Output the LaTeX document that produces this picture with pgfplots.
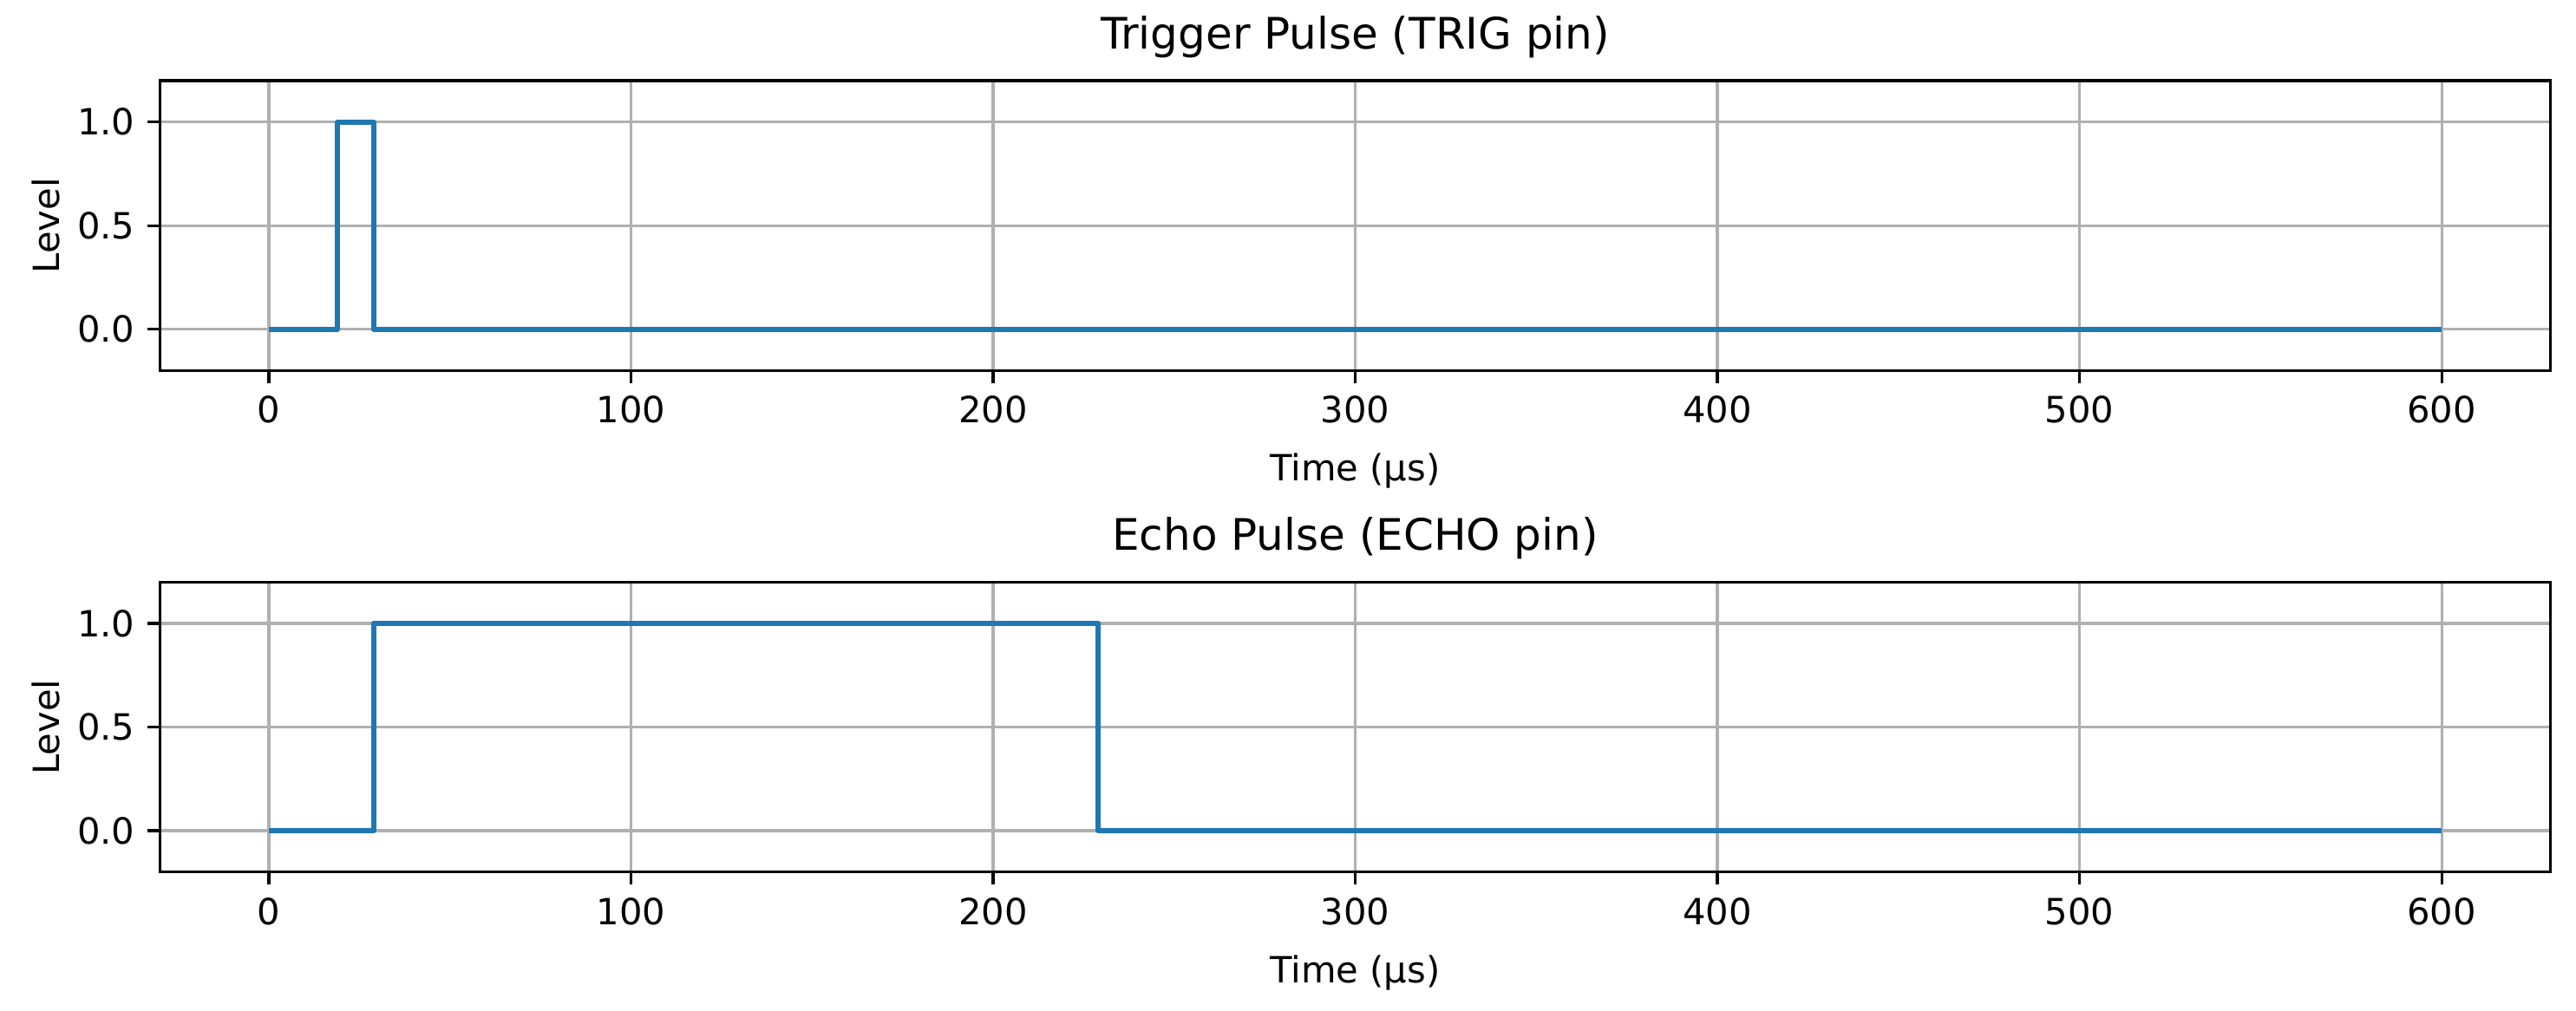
\documentclass[border=0pt]{standalone}
\usepackage{fontspec}
\setmainfont{DejaVu Sans}
\usepackage{pgfplots}
\pgfplotsset{compat=1.18}
\definecolor{tabblue}{HTML}{1F77B4}
\definecolor{gridgray}{HTML}{B0B0B0}
\pgfplotsset{
  pulse/.style={
    scale only axis,
    width=661.4pt, height=80.3pt,
    xmin=-30, xmax=630,
    ymin=-0.2, ymax=1.2,
    xtick={0,100,...,600},
    ytick={0,0.5,1},
    xtick pos=bottom, ytick pos=left,
    tick align=outside,
    major tick length=3.5pt,
    every tick/.style={black, line width=0.8pt},
    axis line style={line width=0.8pt},
    grid=major,
    major grid style={gridgray, line width=0.8pt},
    tick label style={font=\fontsize{10}{12}\selectfont},
    /pgf/number format/assume math mode=true,
    yticklabel style={/pgf/number format/.cd, fixed, fixed zerofill, precision=1},
    xticklabel style={/pgf/number format/.cd, fixed, precision=0},
    label style={font=\fontsize{10}{12}\selectfont},
    title style={font=\fontsize{12}{14}\selectfont, at={(0.5,1)}, anchor=south,
      inner sep=0pt, yshift=6pt},
    every axis title shift=0pt,
    xlabel={Time (µs)},
    ylabel={Level},
    ylabel style={yshift=-2pt},
    xlabel style={yshift=-1.5pt},
  },
  pulseline/.style={tabblue, line width=1.5pt, line join=round, mark=none},
}
\begin{document}
\begin{tikzpicture}[x=1pt,y=1pt]
  \useasboundingbox (0,0) rectangle (712.8,279.8);
  \begin{axis}[pulse, at={(44.3pt,177.2pt)}, anchor=south west,
      title={Trigger Pulse (TRIG pin)}]
    \addplot[pulseline] coordinates {
      (0,0) (19,0) (19,1) (29,1) (29,0) (600,0)
    };
  \end{axis}
  \begin{axis}[pulse, at={(44.3pt,38.4pt)}, anchor=south west,
      title={Echo Pulse (ECHO pin)}]
    \addplot[pulseline] coordinates {
      (0,0) (29,0) (29,1) (229,1) (229,0) (600,0)
    };
  \end{axis}
\end{tikzpicture}
\end{document}
